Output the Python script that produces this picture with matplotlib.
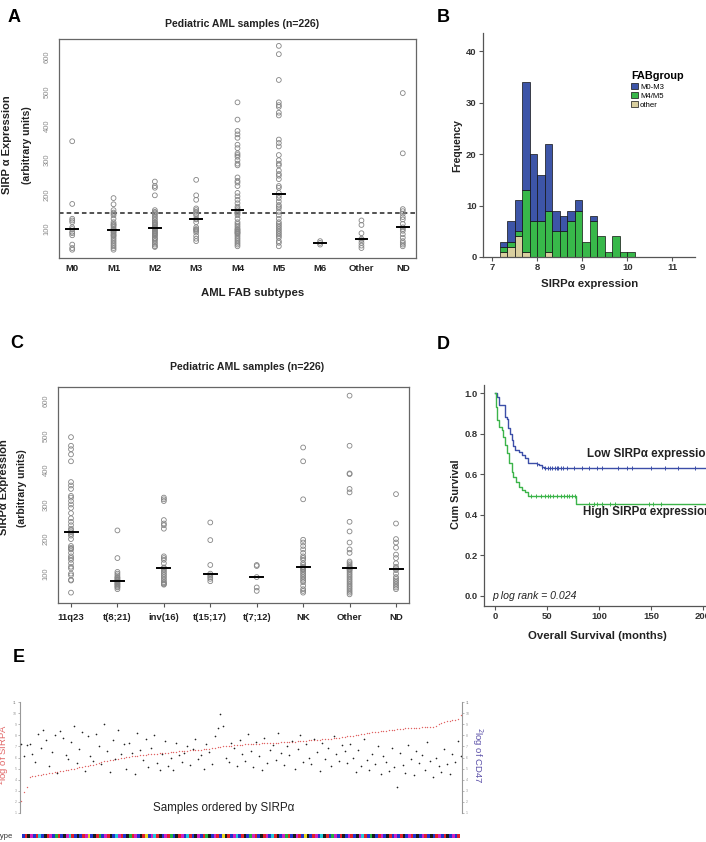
import numpy as np
import matplotlib
matplotlib.use("Agg")
import matplotlib.pyplot as plt
from matplotlib.patches import Patch

plt.rcParams['font.family'] = ['Liberation Sans', 'DejaVu Sans']

W, H = 706, 842

# ---------------- panel A: SIRPa per FAB subtype ----------------
fab_labels = ['M0', 'M1', 'M2', 'M3', 'M4', 'M5', 'M6', 'Other', 'ND']
fab_M0 = [40, 45, 55, 82, 88, 92, 100, 105, 120, 125, 130, 173, 355]
fab_M1 = [190, 172, 155, 148, 145, 140, 130, 120, 115, 112, 110, 105, 100, 98,
          95, 92, 90, 85, 82, 80, 75, 70, 65, 60, 55, 50, 45, 40]
fab_M2 = [238, 225, 220, 198, 155, 150, 148, 145, 140, 135, 130, 125, 120, 118,
          115, 112, 110, 105, 103, 100, 98, 95, 92, 90, 88, 85, 82, 80, 75, 72,
          70, 65, 60, 55, 50, 48]
fab_M3 = [243, 198, 185, 160, 155, 150, 145, 140, 130, 128, 120, 105, 100, 98,
          95, 90, 80, 72, 65]
fab_M4 = [468, 418, 385, 375, 365, 345, 335, 320, 315, 310, 300, 290, 285, 250,
          240, 235, 225, 205, 195, 185, 175, 165, 160, 155, 150, 148, 145, 140,
          130, 120, 115, 110, 105, 100, 98, 95, 92, 90, 88, 85, 80, 75, 70, 65,
          60, 55, 50]
fab_M5 = [632, 608, 533, 468, 460, 455, 438, 430, 360, 350, 340, 315, 300, 290,
          285, 270, 260, 255, 245, 225, 220, 205, 197, 190, 180, 170, 165, 160,
          150, 140, 130, 120, 115, 110, 105, 100, 95, 90, 85, 80, 75, 65, 60, 50]
fab_M6 = [65, 60, 55]
fab_Other = [125, 112, 88, 72, 68, 60, 52, 45]
fab_ND = [495, 320, 158, 152, 145, 135, 128, 115, 105, 100, 95, 85, 75, 65, 60, 55, 50]
fab_groups = [fab_M0, fab_M1, fab_M2, fab_M3, fab_M4, fab_M5, fab_M6, fab_Other, fab_ND]
cutoff = 148

# ---------------- panel C: SIRPa per cytogenetic group ----------------
cyto_labels = ['11q23', 't(8;21)', 'inv(16)', 't(15;17)', 't(7;12)', 'NK', 'Other', 'ND']
cyto_11q23 = [495, 470, 460, 445, 425, 365, 355, 345, 325, 320, 310, 300, 290, 275,
              260, 250, 240, 230, 225, 220, 215, 210, 200, 180, 175, 172, 170, 160,
              150, 145, 140, 130, 120, 115, 100, 95, 82, 80, 45]
cyto_t821 = [225, 145, 105, 100, 95, 90, 88, 85, 82, 80, 78, 75, 72, 70, 68, 65, 62, 60, 55]
cyto_inv16 = [320, 315, 310, 255, 245, 240, 230, 150, 145, 140, 130, 118, 115, 110,
              105, 100, 95, 90, 85, 80, 75, 72, 70, 68]
cyto_t1517 = [248, 197, 125, 100, 95, 90, 85, 78]
cyto_t712 = [125, 122, 90, 60, 50]
cyto_NK = [465, 425, 315, 198, 190, 180, 170, 160, 150, 145, 140, 130, 125, 120, 118,
           115, 112, 110, 105, 100, 95, 90, 85, 80, 75, 65, 55, 50, 45]
cyto_Other = [615, 470, 390, 388, 345, 335, 250, 222, 190, 170, 160, 135, 130, 125,
              120, 118, 115, 112, 110, 105, 100, 95, 90, 85, 80, 75, 70, 65, 60, 55,
              50, 45, 40]
cyto_ND = [330, 245, 200, 190, 175, 155, 145, 130, 120, 115, 110, 100, 90, 85, 80,
           75, 70, 65, 60, 55]
cyto_groups = [cyto_11q23, cyto_t821, cyto_inv16, cyto_t1517, cyto_t712, cyto_NK,
               cyto_Other, cyto_ND]

# ---------------- panel B: histogram counts per bin ----------------
hist_start = 7.17
hist_width = 1 / 6
hist_m03 = [1, 4, 6, 21, 13, 9, 13, 4, 3, 2, 2, 0, 1, 0, 0, 0, 0, 0]
hist_m45 = [1, 1, 1, 12, 7, 7, 8, 5, 5, 7, 9, 3, 7, 4, 1, 4, 1, 1]
hist_oth = [1, 2, 4, 1, 0, 0, 1, 0, 0, 0, 0, 0, 0, 0, 0, 0, 0, 0]

# ---------------- panel D: Kaplan-Meier ----------------
low_t = [0, 1.6, 4.2, 9.7, 11.3, 12.9, 14.5, 16, 17.7, 19.4, 22.6, 25.8, 29, 32, 40, 42, 45, 47]
low_s = [1.0, 0.98, 0.94, 0.88, 0.87, 0.83, 0.80, 0.77, 0.74, 0.72, 0.71, 0.695,
         0.68, 0.657, 0.652, 0.645, 0.638, 0.633]
low_cens = [40, 45, 48, 51, 53, 55, 58, 60, 61, 63, 65, 69, 76, 84, 90, 98, 103,
            118, 127, 132, 150, 163, 176, 192]
high_t = [0, 1, 2.3, 4.2, 6.5, 8, 9.7, 11.3, 13.9, 16, 17.7, 20.3, 22.6, 25.8, 29, 32, 77.5]
high_s = [1.0, 0.93, 0.867, 0.834, 0.818, 0.785, 0.744, 0.703, 0.654, 0.613, 0.588,
          0.563, 0.538, 0.522, 0.514, 0.494, 0.453]
high_cens = [35, 39, 44, 48, 51, 53, 56, 60, 63, 66, 69, 71, 74, 77, 90, 95, 98,
             103, 111, 115, 148, 152, 160]
km_end = 222

# ---------------- panel E: SIRPA (sorted) and CD47 per sample ----------------
sirpa_sorted = [
    2.1, 2.9, 3.3, 4.2, 4.3, 4.35, 4.4, 4.45, 4.5, 4.55, 4.6, 4.62, 4.65, 4.7, 4.75,
    4.8, 4.85, 4.9, 4.95, 5.0, 5.05, 5.1, 5.15, 5.2, 5.25, 5.3, 5.35, 5.45, 5.5, 5.6,
    5.65, 5.7, 5.75, 5.8, 5.85, 5.9, 5.95, 6.0, 6.02, 6.05, 6.1, 6.15, 6.18, 6.2, 6.22,
    6.25, 6.28, 6.3, 6.32, 6.35, 6.38, 6.4, 6.42, 6.45, 6.5, 6.52, 6.54, 6.56, 6.58, 6.6,
    6.62, 6.64, 6.66, 6.68, 6.7, 6.72, 6.74, 6.76, 6.8, 6.84, 6.88, 6.92, 6.96, 7.0, 7.04,
    7.06, 7.08, 7.1, 7.12, 7.14, 7.16, 7.18, 7.2, 7.22, 7.24, 7.25, 7.26, 7.27, 7.28, 7.3,
    7.31, 7.32, 7.33, 7.34, 7.36, 7.37, 7.38, 7.4, 7.42, 7.44, 7.46, 7.48, 7.5, 7.52, 7.54,
    7.56, 7.58, 7.6, 7.62, 7.64, 7.66, 7.68, 7.7, 7.72, 7.75, 7.78, 7.82, 7.86, 7.9, 7.94,
    7.98, 8.02, 8.06, 8.1, 8.14, 8.18, 8.22, 8.26, 8.3, 8.34, 8.38, 8.4, 8.43, 8.46, 8.49,
    8.52, 8.55, 8.58, 8.6, 8.62, 8.65, 8.66, 8.68, 8.69, 8.7, 8.71, 8.72, 8.74, 8.75, 8.78,
    8.85, 9.0, 9.1, 9.2, 9.25, 9.3, 9.35, 9.4, 9.5, 9.8]
cd47 = [
    7.2, 6.1, 7.1, 7.2, 6.3, 5.6, 8.1, 6.9, 8.5, 7.6, 5.2, 6.5, 8.0, 4.6, 8.4, 7.8, 6.2,
    5.9, 7.4, 8.8, 5.5, 6.8, 8.3, 4.8, 7.9, 6.1, 5.7, 8.1, 7.0, 5.4, 9.0, 6.6, 4.7, 7.6,
    5.9, 8.5, 6.3, 7.2, 5.0, 7.3, 6.4, 4.5, 8.2, 6.7, 5.8, 7.7, 5.1, 6.9, 8.0, 5.5, 4.9,
    6.3, 7.5, 5.2, 6.0, 4.9, 7.3, 6.2, 5.6,
    6.4, 7.0, 5.3, 6.8, 7.7, 5.9, 6.2, 5.0, 7.2, 6.5, 5.4, 7.9, 8.7, 9.9, 8.8, 6.0, 5.6,
    7.3, 6.9, 5.2, 7.6, 6.3, 5.7, 8.1, 6.6, 5.1, 7.4, 6.1, 4.9, 7.8, 5.5, 6.7, 7.1, 5.8,
    8.2, 6.4, 5.3, 7.0, 6.2, 7.5, 5.0, 6.8, 8.0, 5.6, 7.2, 6.0, 5.4, 7.7, 6.5, 4.8, 7.3,
    5.9, 6.9, 5.2, 7.9, 6.3, 5.7, 7.1, 6.6,
    5.5, 7.2, 6.0, 4.7, 6.7, 5.2, 7.7, 5.8, 4.9, 6.3, 5.4, 7.0, 4.5, 6.1, 5.6, 4.8, 6.9,
    5.1, 3.3, 6.4, 5.3, 4.6, 7.1, 5.9, 4.4, 6.6, 5.5, 6.2, 4.9, 7.4, 5.7, 4.2, 6.0, 5.2,
    4.7, 6.8, 5.4, 4.5, 6.3, 5.6, 7.5, 6.1]
fab_type_code = [
    2, 1, 0, 3, 2, 1, 5, 2, 0, 1, 3, 2, 4, 1, 2, 0, 3, 5, 1, 2,
    0, 2, 1, 3, 6, 2, 0, 1, 4, 2, 3, 1, 0, 2, 5, 3, 1, 2, 0, 4,
    1, 3, 2, 0, 1, 6, 2, 3, 5, 1, 0, 2, 3, 1, 4, 2, 0, 1, 3, 2,
    5, 1, 2, 0, 3, 2, 1, 4, 0, 2, 3, 1, 2, 6, 0, 1, 2, 3, 5, 2,
    1, 0, 2, 4, 3, 1, 2, 0, 1, 3, 2, 5, 1, 0, 2, 3, 4, 1, 2, 0,
    3, 1, 2, 6, 0, 2, 1, 3, 2, 5, 0, 1, 2, 4, 3, 2, 1, 0, 2, 3,
    1, 2, 0, 3, 5, 1, 2, 4, 0, 2, 1, 3, 2, 0, 1, 2, 3, 2, 1, 0,
    2, 3, 1, 2, 0, 2, 3, 1, 2, 0, 2, 1, 3, 2, 1, 0, 2, 3, 2, 1]
type_colors = ['#1a1a1a', '#e0202a', '#2233cc', '#d020c0', '#22b040', '#22c8d8',
               '#e8d820', '#8030a0']


def px_axes(fig, x0, y0, x1, y1):
    return fig.add_axes([x0 / W, 1 - y1 / H, (x1 - x0) / W, (y1 - y0) / H])


def px_text(fig, x, y, s, **kw):
    return fig.text(x / W, 1 - y / H, s, **kw)


def strip_panel(ax, groups, labels, ylim, tick_len):
    for i, vals in enumerate(groups, start=1):
        ax.scatter(np.full(len(vals), i), vals, s=12, facecolors='none',
                   edgecolors='#858585', linewidths=0.6, zorder=2)
        med = np.median(vals)
        ax.plot([i - 0.14, i + 0.14], [med, med], color='black', lw=1.4, zorder=3)
    n = len(groups)
    pad = (n - 1) * 0.04
    ax.set_xlim(1 - pad, n + pad)
    ax.set_ylim(*ylim)
    ax.set_xticks(range(1, n + 1))
    ax.set_xticklabels(labels, fontsize=6.8, fontweight='bold', color='#222222')
    ax.set_yticks([100, 200, 300, 400, 500, 600])
    ax.set_yticklabels(['100', '200', '300', '400', '500', '600'], rotation=90,
                       va='center', fontsize=5.5, color='#8a8a8a')
    ax.tick_params(axis='y', length=0, pad=6)
    ax.tick_params(axis='x', length=tick_len, width=0.8, color='#555555', pad=4)
    for sp in ax.spines.values():
        sp.set_color('#666666')
        sp.set_linewidth(0.9)


fig = plt.figure(figsize=(W / 100, H / 100), dpi=100)

# ---- A ----
axA = px_axes(fig, 59, 39, 416, 258)
strip_panel(axA, fab_groups, fab_labels, (16, 652), 0)
axA.axhline(cutoff, color='#222222', lw=1.1, ls=(0, (3, 2)), zorder=1)
px_text(fig, 242, 24, 'Pediatric AML samples (n=226)', fontsize=7.6, fontweight='bold',
        ha='center', va='center', color='#222222')
px_text(fig, 253, 293, 'AML FAB subtypes', fontsize=8.2, fontweight='bold',
        ha='center', va='center', color='#222222')
px_text(fig, 7, 145, 'SIRP α Expression', fontsize=8, fontweight='bold', rotation=90,
        ha='center', va='center', color='#222222')
px_text(fig, 27, 145, '(arbitrary units)', fontsize=7.6, fontweight='bold', rotation=90,
        ha='center', va='center', color='#222222')

# ---- B ----
axB = px_axes(fig, 483, 33, 695, 257)
edges = hist_start + hist_width * np.arange(len(hist_m03))
oth = np.array(hist_oth)
m45 = np.array(hist_m45)
m03 = np.array(hist_m03)
colB = {'M0-M3': '#3d55a8', 'M4/M5': '#38b84a', 'other': '#d9cf9f'}
for heights, bottoms, key in [(oth, 0 * oth, 'other'), (m45, oth, 'M4/M5'),
                              (m03, oth + m45, 'M0-M3')]:
    keep = heights > 0
    axB.bar(edges[keep], heights[keep], width=hist_width, bottom=bottoms[keep],
            align='edge', color=colB[key], edgecolor='#111111', linewidth=0.5)
axB.set_xlim(6.8, 11.5)
axB.set_ylim(0, 43.5)
axB.set_xticks([7, 8, 9, 10, 11])
axB.set_yticks([0, 10, 20, 30, 40])
axB.tick_params(labelsize=6.8, length=3, width=0.8, color='#555555', pad=1.5)
for lab in axB.get_xticklabels() + axB.get_yticklabels():
    lab.set_fontweight('bold')
    lab.set_color('#333333')
for side in ['top', 'right']:
    axB.spines[side].set_visible(False)
for side in ['left', 'bottom']:
    axB.spines[side].set_color('#555555')
    axB.spines[side].set_linewidth(0.9)
px_text(fig, 590, 284, 'SIRPα expression', fontsize=8.2, fontweight='bold',
        ha='center', va='center', color='#222222')
px_text(fig, 457, 145, 'Frequency', fontsize=7.6, fontweight='bold', rotation=90,
        ha='center', va='center', color='#222222')
handles = [Patch(facecolor=colB[k], edgecolor='#111111', linewidth=0.5)
           for k in ['M0-M3', 'M4/M5', 'other']]
leg = fig.legend(handles, ['M0-M3', 'M4/M5', 'other'], title='FABgroup',
                 loc='upper left', bbox_to_anchor=(626 / W, 1 - 66 / H), frameon=False,
                 fontsize=5.6, handlelength=0.9, handleheight=0.9, handletextpad=0.2,
                 labelspacing=0.15, borderpad=0.2)
leg.get_title().set_fontweight('bold')
leg.get_title().set_fontsize(7.8)
leg._legend_box.align = 'left'

# ---- C ----
axC = px_axes(fig, 58, 387, 409, 603)
strip_panel(axC, cyto_groups, cyto_labels, (15, 640), 3)
px_text(fig, 247, 367, 'Pediatric AML samples (n=226)', fontsize=7.6, fontweight='bold',
        ha='center', va='center', color='#222222')
px_text(fig, 4, 487, 'SIRPα Expression', fontsize=8, fontweight='bold', rotation=90,
        ha='center', va='center', color='#222222')
px_text(fig, 22, 488, '(arbitrary units)', fontsize=7.6, fontweight='bold', rotation=90,
        ha='center', va='center', color='#222222')

# ---- D ----
axD = px_axes(fig, 484, 385, 495 + (km_end) * 1.04, 606)
for t, s, cens, col in [(low_t, low_s, low_cens, '#3c4ea8'),
                        (high_t, high_s, high_cens, '#3cb44a')]:
    tt = list(t) + [km_end]
    ss = list(s) + [s[-1]]
    axD.step(tt, ss, where='post', color=col, lw=1.0)
    cs = [s[np.searchsorted(t, c, side='right') - 1] for c in cens]
    axD.plot(cens, cs, ls='none', marker='|', ms=3.5, mew=0.7, color=col)
axD.set_xlim(-10.6, km_end)
axD.set_ylim(-0.05, 1.04)
axD.set_xticks([0, 50, 100, 150, 200])
axD.set_yticks([0.0, 0.2, 0.4, 0.6, 0.8, 1.0])
axD.set_yticklabels(['0.0', '0.2', '0.4', '0.6', '0.8', '1.0'])
axD.tick_params(labelsize=6.8, length=3, width=0.8, color='#555555', pad=1.5)
for lab in axD.get_xticklabels() + axD.get_yticklabels():
    lab.set_fontweight('bold')
    lab.set_color('#333333')
for side in ['top', 'right']:
    axD.spines[side].set_visible(False)
for side in ['left', 'bottom']:
    axD.spines[side].set_color('#555555')
    axD.spines[side].set_linewidth(0.9)
axD.text(88, 0.7, 'Low SIRPα expression', fontsize=8.4, fontweight='bold',
         va='center', color='#222222')
axD.text(84.5, 0.415, 'High SIRPα expression', fontsize=8.4, fontweight='bold',
         va='center', color='#222222')
axD.text(-3, 0.0, 'p log rank = 0.024', fontsize=7.6, style='italic', va='center',
         color='#222222')
px_text(fig, 597, 636, 'Overall Survival (months)', fontsize=8.2, fontweight='bold',
        ha='center', va='center', color='#222222')
px_text(fig, 456, 494, 'Cum Survival', fontsize=7.8, fontweight='bold', rotation=90,
        ha='center', va='center', color='#222222')

# ---- E ----
n_samp = len(sirpa_sorted)
axE = px_axes(fig, 20, 702, 462, 813)
idx = np.arange(n_samp)
axE.plot(idx, sirpa_sorted, ls='none', marker='o', ms=1.0, mew=0, color='#e06464')
axE.set_xlim(-0.5, n_samp - 0.5)
axE.set_ylim(1, 11)
axE.set_yticks(range(1, 12))
axE.set_xticks([])
axE.tick_params(axis='y', labelsize=2.5, length=1.5, width=0.5, color='#999999',
                labelcolor='#999999', pad=1)
for side in ['top', 'bottom', 'right']:
    axE.spines[side].set_visible(False)
axE.spines['left'].set_color('#999999')
axE.spines['left'].set_linewidth(0.8)
axE2 = axE.twinx()
axE2.plot(idx, cd47, ls='none', marker='o', ms=1.2, mew=0, color='#222222')
axE2.set_ylim(1, 11)
axE2.set_yticks(range(1, 12))
axE2.tick_params(axis='y', labelsize=2.5, length=1.5, width=0.5, color='#999999',
                 labelcolor='#999999', pad=1)
for side in ['top', 'bottom', 'left']:
    axE2.spines[side].set_visible(False)
axE2.spines['right'].set_color('#999999')
axE2.spines['right'].set_linewidth(0.8)
px_text(fig, 224, 808, 'Samples ordered by SIRPα', fontsize=8.4, ha='center',
        va='center', color='#222222')
px_text(fig, 4, 755, '$^2$log of SIRPA', fontsize=6.8, rotation=90, ha='center',
        va='center', color='#e06464')
px_text(fig, 477, 755, '$^2$log of CD47', fontsize=6.8, rotation=270, ha='center',
        va='center', color='#5a4fa8')

axS = px_axes(fig, 22, 834, 460, 838)
axS.bar(idx, np.ones(n_samp), width=1.0, color=[type_colors[c] for c in fab_type_code],
        linewidth=0)
axS.set_xlim(-0.5, n_samp - 0.5)
axS.set_ylim(0, 1)
axS.axis('off')
px_text(fig, 12, 836, 'FAB type', fontsize=5.5, ha='right', va='center', color='#333333')

# panel letters
for letter, x, y in [('A', 8, 17), ('B', 437, 17), ('C', 10, 343), ('D', 437, 345),
                     ('E', 13, 658)]:
    px_text(fig, x, y, letter, fontsize=13, fontweight='bold', ha='left', va='center')

fig.savefig('out.png', dpi=100)
